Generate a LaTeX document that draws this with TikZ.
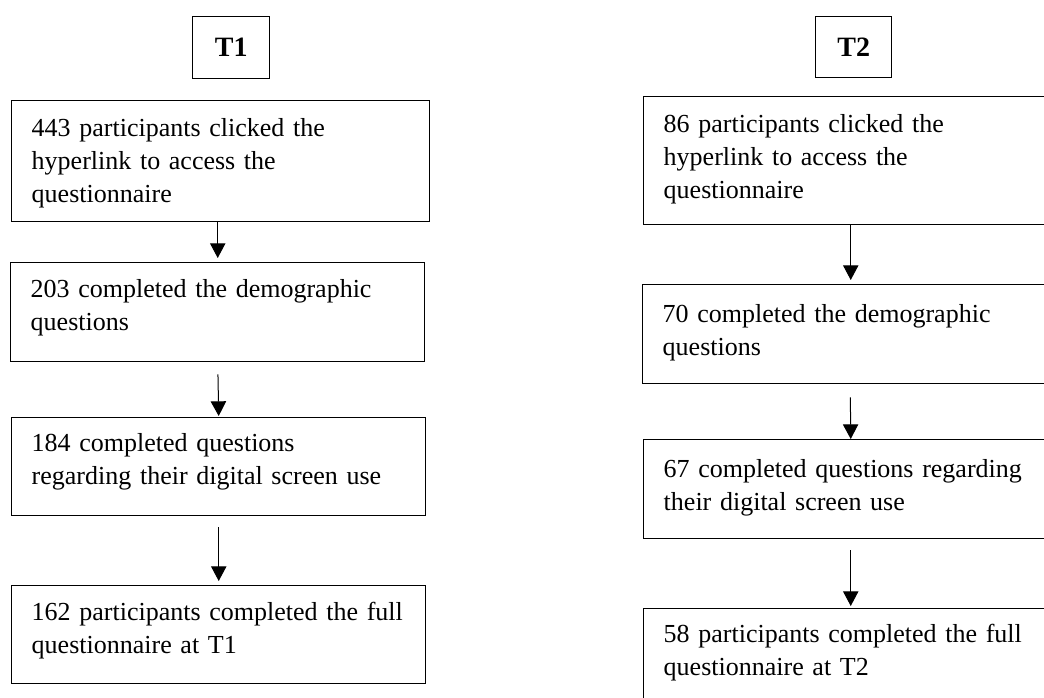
\documentclass[tikz,border=0pt]{standalone}
\usepackage{fontspec}
\setmainfont{Liberation Serif}
\usetikzlibrary{arrows.meta}
\newcommand{\oneline}[1]{\mbox{#1}}
\begin{document}
\begin{tikzpicture}[x=0.75pt,y=-0.75pt,
  every node/.style={font=\fontsize{19.5}{24.75}\selectfont},
  flowbox/.style={draw, line width=1.1pt, anchor=north west, inner xsep=15pt, inner ysep=0pt, align=left},
  headbox/.style={draw, line width=1pt, anchor=north west, inner sep=0pt, font=\fontsize{21}{24}\selectfont\bfseries},
  arr/.style={line width=0.75pt, -{Triangle[length=11pt,width=11.5pt]}}
]
\useasboundingbox (0,0) rectangle (1044,697);
\clip (0,0) rectangle (1044,697);

% headers
\node[headbox, minimum width=57.75pt, minimum height=46.5pt] (T1) at (192,16) {T1};
\node[headbox, minimum width=57pt, minimum height=45.75pt] (T2) at (815,16) {T2};

% left column
\node[flowbox, text width=283.5pt, text height=27pt, text depth=63.75pt] (B1) at (11,100)
  {\oneline{443 participants clicked the}\\\oneline{hyperlink to access the}\\questionnaire};
\node[flowbox, text width=280.5pt, text height=26.25pt, text depth=48pt] (B2) at (10,262)
  {\oneline{203 completed the demographic}\\questions};
\node[flowbox, text width=280.5pt, text height=25.5pt, text depth=48pt] (B3) at (11,417)
  {\oneline{184 completed questions}\\\oneline{regarding their digital screen use}};
\node[flowbox, text width=280.5pt, text height=26.25pt, text depth=47.25pt] (B4) at (11,585)
  {\oneline{162 participants completed the full}\\\oneline{questionnaire at T1}};

% right column
\node[flowbox, text width=280.5pt, text height=27pt, text depth=69pt] (R1) at (643,96)
  {\oneline{86 participants clicked the}\\\oneline{hyperlink to access the}\\questionnaire};
\node[flowbox, text width=281.25pt, text height=28.5pt, text depth=45.75pt] (R2) at (642,284)
  {\oneline{70 completed the demographic}\\questions};
\node[flowbox, text width=280.5pt, text height=28.5pt, text depth=45.75pt] (R3) at (643,439)
  {\oneline{67 completed questions regarding}\\\oneline{their digital screen use}};
\node[flowbox, text width=280.5pt, text height=25.5pt, text depth=48pt] (R4) at (643,608)
  {\oneline{58 participants completed the full}\\\oneline{questionnaire at T2}};

% connectors
\draw[arr, shorten >=3pt] (B1.south -| B2.north) -- (B2.north);
\draw[arr, shorten <=9pt, shorten >=0.75pt] (B2.south) -- (B3.north);
\draw[arr, shorten <=8.25pt, shorten >=3pt] (B3.south) -- (B4.north);

\draw[arr, shorten >=3pt] (R1.south) -- (R2.north -| R1.south);
\draw[arr, shorten <=9.75pt] (R2.south) -- (R3.north);
\draw[arr, shorten <=8.25pt, shorten >=1.5pt] (R3.south) -- (R4.north);
\end{tikzpicture}
\end{document}
